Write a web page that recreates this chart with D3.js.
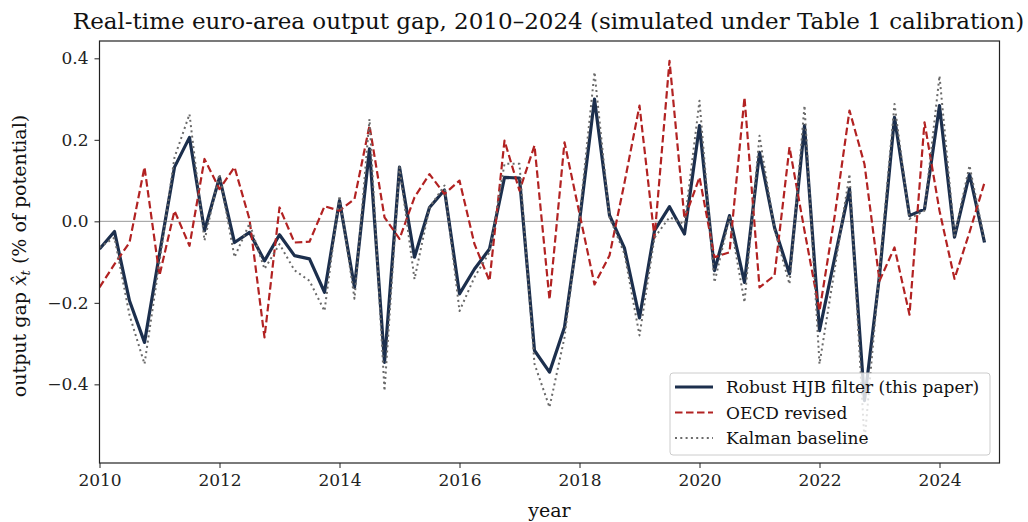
<!DOCTYPE html>
<html>
<head>
<meta charset="utf-8">
<script src="https://cdn.jsdelivr.net/npm/d3@7"></script>
<style>
  body { margin: 0; background: #fff; }
  svg { display: block; font-family: "DejaVu Serif", serif; }
</style>
</head>
<body>
<svg id="chart" width="1028" height="522"></svg>
<script>
const startYear = 2010;
const nQuarters = 60;
const quarters = d3.range(nQuarters).map(i => startYear + i / 4);

const robust = [-0.068,-0.025,-0.195,-0.297,-0.08,0.133,0.206,-0.023,0.108,-0.052,
  -0.027,-0.097,-0.033,-0.084,-0.092,-0.174,0.051,-0.162,0.178,-0.346,
  0.133,-0.088,0.034,0.077,-0.178,-0.117,-0.068,0.108,0.106,-0.317,
  -0.37,-0.26,0.0,0.30,0.015,-0.066,-0.237,-0.023,0.036,-0.031,
  0.235,-0.121,0.014,-0.15,0.169,-0.015,-0.129,0.235,-0.268,-0.092,
  0.08,-0.44,-0.133,0.255,0.014,0.03,0.284,-0.039,0.116,-0.052];

const oecd = [-0.162,-0.105,-0.052,0.133,-0.133,0.026,-0.06,0.153,0.079,0.133,
  0.005,-0.285,0.034,-0.052,-0.05,0.037,0.026,0.055,0.235,0.01,
  -0.043,0.059,0.116,0.067,0.1,-0.056,-0.146,0.198,0.075,0.186,
  -0.192,0.194,0.019,-0.155,-0.084,0.095,0.284,-0.04,0.394,0.006,
  0.108,-0.088,-0.076,0.304,-0.162,-0.133,0.182,-0.023,-0.22,0.01,
  0.272,0.14,-0.146,-0.064,-0.229,0.243,0.026,-0.141,-0.027,0.095];

const kalman = [-0.064,-0.04,-0.23,-0.35,-0.1,0.157,0.263,-0.047,0.116,-0.088,
  -0.005,-0.117,-0.056,-0.12,-0.146,-0.22,0.063,-0.19,0.251,-0.416,
  0.133,-0.142,0.034,0.088,-0.22,-0.137,-0.076,0.141,0.141,-0.35,
  -0.456,-0.285,0.01,0.366,0.01,-0.08,-0.28,-0.04,0.01,-0.007,
  0.296,-0.15,0.01,-0.199,0.21,-0.02,-0.154,0.284,-0.35,-0.12,
  0.116,-0.54,-0.12,0.288,0.006,0.026,0.357,-0.035,0.137,-0.047];

const xTicks = [2010, 2012, 2014, 2016, 2018, 2020, 2022, 2024];
const yTicks = [-0.4, -0.2, 0.0, 0.2, 0.4];
const seriesNames = ["Robust HJB filter (this paper)", "OECD revised", "Kalman baseline"];

const titleText = "Real-time euro-area output gap, 2010\u20132024 (simulated under Table 1 calibration)";

const svg = d3.select("#chart");
const pLeft = 99.5, pRight = 999.5, pTop = 41, pBottom = 463;

const x = d3.scaleLinear().domain([2010, 2025]).range([pLeft, pRight]);
const y = d3.scaleLinear().domain([-0.593, 0.4425]).range([pBottom, pTop]);

// zero line
svg.append("line")
  .attr("x1", pLeft).attr("x2", pRight)
  .attr("y1", y(0)).attr("y2", y(0))
  .attr("stroke", "#999").attr("stroke-width", 1);

svg.append("defs").append("clipPath").attr("id", "clip")
  .append("rect").attr("x", pLeft).attr("y", pTop).attr("width", pRight - pLeft).attr("height", pBottom - pTop);

const line = d3.line().x((d, i) => x(quarters[i])).y(d => y(d));
const g = svg.append("g").attr("clip-path", "url(#clip)");

const styles = [
  { data: robust, color: "#1c2f4d", width: 3.2, dash: null },
  { data: oecd, color: "#b22222", width: 2.2, dash: "7.5,3.5" },
  { data: kalman, color: "#6a6a6a", width: 2, dash: "2,3.3" }
];

styles.forEach(s => {
  g.append("path").datum(s.data)
    .attr("d", line)
    .attr("fill", "none")
    .attr("stroke", s.color)
    .attr("stroke-width", s.width)
    .attr("stroke-linejoin", "round")
    .attr("stroke-dasharray", s.dash);
});

// axes
const xAxis = d3.axisBottom(x).tickValues(xTicks).tickFormat(d3.format("d")).tickSize(5).tickPadding(6);
const yAxis = d3.axisLeft(y).tickValues(yTicks).tickFormat(d => d === 0 ? "0.0" : d3.format(".1f")(d).replace("-", "\u2212")).tickSize(5).tickPadding(6);

const gx = svg.append("g").attr("transform", `translate(0,${pBottom})`).call(xAxis);
const gy = svg.append("g").attr("transform", `translate(${pLeft},0)`).call(yAxis);
[gx, gy].forEach(a => {
  a.select(".domain").remove();
  a.selectAll("line").attr("stroke", "#222").attr("stroke-width", 1);
  a.selectAll("text").attr("font-family", "DejaVu Serif").attr("font-size", 17).attr("fill", "#222");
});

// frame
svg.append("rect").attr("x", pLeft).attr("y", pTop).attr("width", pRight - pLeft).attr("height", pBottom - pTop)
  .attr("fill", "none").attr("stroke", "#222").attr("stroke-width", 1.2);

// title
svg.append("text").attr("x", (pLeft + pRight) / 2 - 1).attr("y", 29)
  .attr("text-anchor", "middle").attr("font-size", 23).attr("fill", "#111")
  .text(titleText);

// x label
svg.append("text").attr("x", (pLeft + pRight) / 2).attr("y", 517)
  .attr("text-anchor", "middle").attr("font-size", 19).attr("fill", "#111").text("year");

// y label
const yl = svg.append("text")
  .attr("transform", `translate(26,${(pTop + pBottom) / 2 + 4}) rotate(-90)`)
  .attr("text-anchor", "middle").attr("font-size", 19).attr("fill", "#111");
yl.append("tspan").text("output gap ");
yl.append("tspan").attr("font-style", "italic").text("x\u0302");
yl.append("tspan").attr("font-style", "italic").attr("font-size", 13).attr("dy", 4).text("t");
yl.append("tspan").attr("dy", -4).text(" (% of potential)");

// legend
const lg = svg.append("g");
lg.append("rect").attr("x", 670).attr("y", 373).attr("width", 320).attr("height", 82)
  .attr("rx", 3).attr("fill", "#fff").attr("fill-opacity", 0.8)
  .attr("stroke", "#ccc").attr("stroke-width", 1);
seriesNames.forEach((name, i) => {
  const cy = 387 + i * 25.5;
  const s = styles[i];
  lg.append("line").attr("x1", 675).attr("x2", 713).attr("y1", cy).attr("y2", cy)
    .attr("stroke", s.color).attr("stroke-width", s.width).attr("stroke-dasharray", s.dash);
  lg.append("text").attr("x", 726).attr("y", cy + 6).attr("font-size", 17).attr("fill", "#111").text(name);
});
</script>
</body>
</html>
